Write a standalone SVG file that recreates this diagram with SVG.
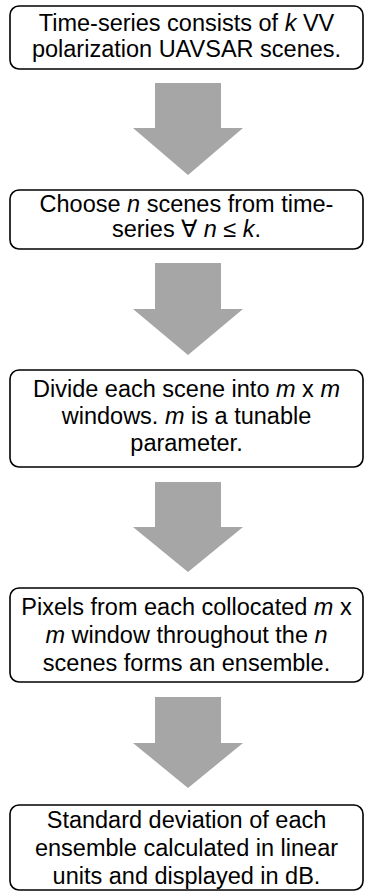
<svg xmlns="http://www.w3.org/2000/svg" width="367" height="894" viewBox="0 0 367 894">
<style>
.box{fill:#fff;stroke:#000;stroke-width:1.6}
.t{font-family:"Liberation Sans",Arial,sans-serif;font-size:23.5px;fill:#000;text-anchor:middle}
.i{font-style:italic}
.arr{fill:#a6a6a6}
</style>
<rect width="367" height="894" fill="#fff"/>
<g id="connectors">
<polygon class="arr" points="155,83 221,83 221,128 243,128 188,175 133,128 155,128"/>
<polygon class="arr" points="155,263 221,263 221,309 243,309 188,355 133,309 155,309"/>
<polygon class="arr" points="155,482 221,482 221,527 243,527 188,572 133,527 155,527"/>
<polygon class="arr" points="155,697 221,697 221,743 243,743 188,788 133,743 155,743"/>
</g>
<g id="n1">
<rect class="box" x="10" y="6" width="353" height="63" rx="9"/>
<text class="t" x="186.5" y="31">Time-series consists of <tspan class="i">k</tspan> VV</text>
<text class="t" x="186.5" y="57">polarization UAVSAR scenes.</text>
</g>
<g id="n2">
<rect class="box" x="10" y="190" width="353" height="59" rx="9"/>
<text class="t" x="186.5" y="212">Choose <tspan class="i">n</tspan> scenes from time-</text>
<text class="t" x="186.5" y="237">series ∀ <tspan class="i">n</tspan> ≤ <tspan class="i">k</tspan>.</text>
</g>
<g id="n3">
<rect class="box" x="10" y="370" width="353" height="97" rx="9"/>
<text class="t" x="186.5" y="397">Divide each scene into <tspan class="i">m</tspan> x <tspan class="i">m</tspan></text>
<text class="t" x="186.5" y="424">windows. <tspan class="i">m</tspan> is a tunable</text>
<text class="t" x="186.5" y="451">parameter.</text>
</g>
<g id="n4">
<rect class="box" x="10" y="588" width="353" height="94" rx="9"/>
<text class="t" x="186.5" y="615">Pixels from each collocated <tspan class="i">m</tspan> x</text>
<text class="t" x="186.5" y="643"><tspan class="i">m</tspan> window throughout the <tspan class="i">n</tspan></text>
<text class="t" x="186.5" y="671">scenes forms an ensemble.</text>
</g>
<g id="n5">
<rect class="box" x="10" y="805" width="353" height="85" rx="9"/>
<text class="t" x="186.5" y="828">Standard deviation of each</text>
<text class="t" x="186.5" y="856">ensemble calculated in linear</text>
<text class="t" x="186.5" y="884">units and displayed in dB.</text>
</g>
</svg>
